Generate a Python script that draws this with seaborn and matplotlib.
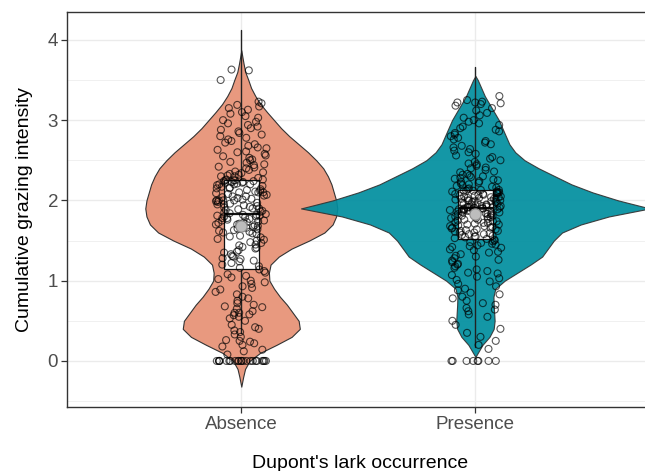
import numpy as np
import pandas as pd
import matplotlib
matplotlib.use("Agg")
import matplotlib.pyplot as plt
import seaborn as sns

# ---- data -------------------------------------------------------------
groups = ["Absence", "Presence"]

absence_values = [
    0, 0, 0, 0, 0, 0, 0, 0, 0, 0, 0, 0, 0, 0, 0, 0, 0, 0, 0, 0, 0, 0,
    0.08, 0.12, 0.14, 0.18, 0.2, 0.22, 0.24, 0.25, 0.26, 0.3,
    0.33, 0.36, 0.38, 0.4, 0.42, 0.45, 0.5, 0.53, 0.55, 0.57, 0.58, 0.6,
    0.6, 0.62, 0.65, 0.67, 0.68, 0.7, 0.72, 0.75, 0.78, 0.8, 0.83, 0.86, 0.89,
    0.91, 0.93, 0.96, 0.98, 1.0, 1.02, 1.04, 1.06, 1.08, 1.1, 1.12, 1.14,
    1.16, 1.18, 1.2, 1.22, 1.24, 1.25, 1.27, 1.28, 1.3, 1.31, 1.33, 1.35,
    1.36, 1.38, 1.4, 1.41, 1.42, 1.44, 1.45, 1.47, 1.48, 1.5, 1.51, 1.52,
    1.54, 1.55, 1.56, 1.58, 1.59, 1.6, 1.61, 1.62, 1.63, 1.64, 1.65, 1.66,
    1.67, 1.68, 1.69, 1.7, 1.7, 1.71, 1.72, 1.72, 1.73, 1.74, 1.75, 1.75,
    1.76, 1.77, 1.78, 1.78, 1.79, 1.8, 1.8, 1.81, 1.81, 1.82, 1.82, 1.83,
    1.84, 1.85, 1.86, 1.87, 1.88, 1.89, 1.9, 1.9, 1.91, 1.92, 1.93, 1.94,
    1.95, 1.95, 1.96, 1.97, 1.98, 1.99, 2.0, 2.0, 2.0, 2.0, 2.01, 2.02,
    2.03, 2.04, 2.05, 2.05, 2.06, 2.07, 2.08, 2.09, 2.1, 2.1, 2.1, 2.11,
    2.12, 2.13, 2.14, 2.15, 2.15, 2.16, 2.17, 2.18, 2.19, 2.2, 2.2, 2.2,
    2.21, 2.22, 2.22, 2.23, 2.23, 2.24, 2.24, 2.25, 2.25, 2.25, 2.26, 2.26,
    2.28, 2.3, 2.3, 2.31, 2.32, 2.33, 2.34, 2.35, 2.36, 2.38, 2.4, 2.41,
    2.42, 2.44, 2.45, 2.47, 2.48, 2.5, 2.51, 2.53, 2.55, 2.56, 2.58, 2.6,
    2.61, 2.63, 2.65, 2.66, 2.68, 2.7, 2.72, 2.74, 2.76, 2.78, 2.8, 2.82,
    2.84, 2.86, 2.88, 2.9, 2.92, 2.94, 2.96, 2.98, 3.0, 3.03, 3.05, 3.08,
    3.1, 3.13, 3.15, 3.17, 3.19, 3.21, 3.23, 3.5, 3.62, 3.63,
]

presence_values = [
    0, 0, 0, 0, 0, 0, 0, 0,
    0.15, 0.2, 0.25, 0.3, 0.35, 0.4, 0.45, 0.5, 0.55, 0.58,
    0.62, 0.64, 0.66, 0.7, 0.72, 0.75, 0.78, 0.8, 0.83, 0.85, 0.88, 0.9,
    0.93, 0.96, 0.99,
    1.01, 1.03, 1.05, 1.07, 1.09, 1.1, 1.12, 1.14, 1.16, 1.18, 1.2, 1.21,
    1.23, 1.25, 1.26, 1.28, 1.3, 1.31, 1.33, 1.35, 1.36, 1.38, 1.39, 1.41,
    1.42, 1.43, 1.44, 1.45, 1.46, 1.47, 1.48, 1.49, 1.5, 1.51, 1.52,
    1.53, 1.54, 1.55, 1.55, 1.56, 1.57, 1.58, 1.58, 1.59, 1.6, 1.6, 1.61,
    1.62, 1.62, 1.63, 1.64, 1.64, 1.65, 1.66, 1.66, 1.67, 1.68, 1.68, 1.69,
    1.7, 1.7, 1.71, 1.72, 1.72, 1.73, 1.74, 1.74, 1.75, 1.76, 1.76, 1.77,
    1.78, 1.78, 1.79, 1.8, 1.8, 1.81, 1.81, 1.82, 1.82, 1.83, 1.83, 1.84,
    1.84, 1.85, 1.85, 1.86, 1.86, 1.86, 1.87, 1.87, 1.87, 1.88, 1.88, 1.88,
    1.89, 1.89, 1.89, 1.89, 1.9,
    1.9, 1.9, 1.91, 1.91, 1.91, 1.92, 1.92, 1.92, 1.93, 1.93, 1.94, 1.94,
    1.95, 1.95, 1.96, 1.96, 1.97, 1.97, 1.98, 1.98, 1.99, 1.99, 2.0, 2.0,
    2.0, 2.01, 2.01, 2.02, 2.02, 2.03, 2.03, 2.04, 2.04, 2.05, 2.05, 2.06,
    2.06, 2.07, 2.07, 2.08, 2.08, 2.09, 2.09, 2.1, 2.1, 2.1, 2.11, 2.11,
    2.12, 2.12, 2.12, 2.13, 2.13,
    2.14, 2.15, 2.16, 2.17, 2.18, 2.19, 2.2, 2.21, 2.22, 2.23, 2.24, 2.25,
    2.26, 2.27, 2.28, 2.29, 2.3, 2.31, 2.32, 2.33, 2.35, 2.36, 2.38, 2.4,
    2.41, 2.43, 2.45, 2.46, 2.48, 2.5,
    2.52, 2.54, 2.56, 2.58, 2.6, 2.62, 2.64, 2.66, 2.68, 2.7, 2.72, 2.74,
    2.76, 2.78, 2.8, 2.82, 2.84, 2.86, 2.88, 2.9, 2.92, 2.94, 2.96, 2.98,
    3.0, 3.03, 3.06, 3.09, 3.12, 3.15,
    3.18, 3.2, 3.21, 3.22, 3.22, 3.23, 3.25, 3.3,
]

# violin density profiles (density evaluated at each grazing level)
absence_levels = [-0.32, -0.2, -0.1, 0.0, 0.1, 0.2, 0.3, 0.4, 0.5, 0.6, 0.7,
                  0.8, 0.9, 1.0, 1.1, 1.2, 1.3, 1.4, 1.5, 1.6, 1.7, 1.8, 1.9,
                  2.0, 2.1, 2.2, 2.3, 2.4, 2.5, 2.6, 2.7, 2.8, 2.9, 3.0, 3.1,
                  3.2, 3.3, 3.4, 3.5, 3.6, 3.7, 3.8, 3.87]
absence_density = [0.0, 0.008, 0.016, 0.035, 0.08, 0.15, 0.215, 0.25, 0.245,
                   0.22, 0.195, 0.165, 0.14, 0.12, 0.118, 0.125, 0.16, 0.215,
                   0.29, 0.355, 0.39, 0.405, 0.41, 0.405, 0.395, 0.385, 0.37,
                   0.35, 0.32, 0.285, 0.245, 0.205, 0.17, 0.14, 0.11, 0.082,
                   0.06, 0.042, 0.03, 0.017, 0.01, 0.004, 0.0]

presence_levels = [0.05, 0.1, 0.2, 0.3, 0.4, 0.5, 0.6, 0.7, 0.8, 0.9, 1.0,
                   1.1, 1.2, 1.3, 1.4, 1.5, 1.6, 1.7, 1.8, 1.9, 2.0, 2.1, 2.2,
                   2.3, 2.4, 2.5, 2.6, 2.7, 2.8, 2.9, 3.0, 3.1, 3.2, 3.3, 3.4,
                   3.5, 3.55]
presence_density = [0.0, 0.01, 0.03, 0.06, 0.078, 0.082, 0.08, 0.078, 0.077,
                    0.085, 0.125, 0.18, 0.235, 0.285, 0.31, 0.335, 0.37, 0.45,
                    0.57, 0.745, 0.61, 0.50, 0.41, 0.34, 0.27, 0.21, 0.17,
                    0.145, 0.13, 0.115, 0.10, 0.08, 0.06, 0.04, 0.025, 0.01,
                    0.0]

# box summaries per group
box_q1 = [1.15, 1.52]
box_median = [1.83, 1.90]
box_q3 = [2.26, 2.13]
whisker_low = [0.35, 0.17]
whisker_high = [4.12, 3.66]
group_mean = [1.68, 1.83]

# ---- styling ----------------------------------------------------------
fill_colors = ["#E8997F", "#008E9F"]
fill_alpha = [1.0, 0.92]
violin_scale = 1.0

sns.set_theme(style="white")
plt.rcParams["font.family"] = ["Liberation Sans", "DejaVu Sans"]

df = pd.DataFrame({
    "occurrence": ["Absence"] * len(absence_values) + ["Presence"] * len(presence_values),
    "grazing": absence_values + presence_values,
})

fig = plt.figure(figsize=(6.45, 4.71), dpi=100)
ax = fig.add_axes([0.104, 0.136, 0.909, 0.839])

np.random.seed(7)
sns.stripplot(data=df, x="occurrence", y="grazing", order=groups, ax=ax,
              jitter=0.11, size=5.0, color="none",
              edgecolor=(0, 0, 0, 0.66), linewidth=0.8, zorder=4)

# violins
profiles = [(absence_levels, absence_density), (presence_levels, presence_density)]
for i, (lev, dens) in enumerate(profiles):
    lev = np.asarray(lev)
    half = np.asarray(dens) * violin_scale
    ax.fill_betweenx(lev, i - half, i + half, facecolor=fill_colors[i],
                     edgecolor="#333333", linewidth=0.8, alpha=fill_alpha[i],
                     zorder=1 + 0.1 * i)

# boxes with whiskers
stats = []
for i in range(len(groups)):
    stats.append({"med": box_median[i], "q1": box_q1[i], "q3": box_q3[i],
                  "whislo": whisker_low[i], "whishi": whisker_high[i],
                  "fliers": [], "mean": group_mean[i]})
ax.bxp(stats, positions=[0, 1], widths=0.15, showcaps=False, showfliers=False,
       patch_artist=True, manage_ticks=False, zorder=3,
       boxprops=dict(facecolor="white", edgecolor="#111111", linewidth=0.9),
       medianprops=dict(color="#111111", linewidth=1.6),
       whiskerprops=dict(color="#222222", linewidth=1.0))

# group means
ax.scatter([0, 1], group_mean, s=66, color="#BDBDBD", edgecolor="#8A8A8A",
           linewidth=0.8, zorder=5)

# ---- axes -------------------------------------------------------------
ax.set_xlim(-0.744, 1.76)
ax.set_ylim(-0.573, 4.35)
ax.set_xticks([0, 1])
ax.set_xticklabels(groups)
ax.set_yticks([0, 1, 2, 3, 4])
ax.set_yticks([-0.5, 0.5, 1.5, 2.5, 3.5], minor=True)

ax.set_axisbelow(True)
ax.grid(True, which="major", axis="both", color="#EBEBEB", linewidth=1.0)
ax.grid(True, which="minor", axis="y", color="#F0F0F0", linewidth=0.7)

for sp in ax.spines.values():
    sp.set_color("#333333")
    sp.set_linewidth(1.0)

ax.tick_params(axis="both", which="major", length=4, width=0.9,
               color="#333333", labelcolor="#4D4D4D", labelsize=13.5, pad=2.5)
ax.tick_params(axis="both", which="minor", length=0)
ax.tick_params(axis="x", bottom=True)
ax.tick_params(axis="y", left=True)

ax.set_xlabel("Dupont's lark occurrence", fontsize=14, color="black")
ax.set_ylabel("Cumulative grazing intensity", fontsize=14, color="black")
ax.xaxis.set_label_coords(0.5, -0.122)
ax.yaxis.set_label_coords(-0.058, 0.5)

fig.savefig("out.png", dpi=100)
